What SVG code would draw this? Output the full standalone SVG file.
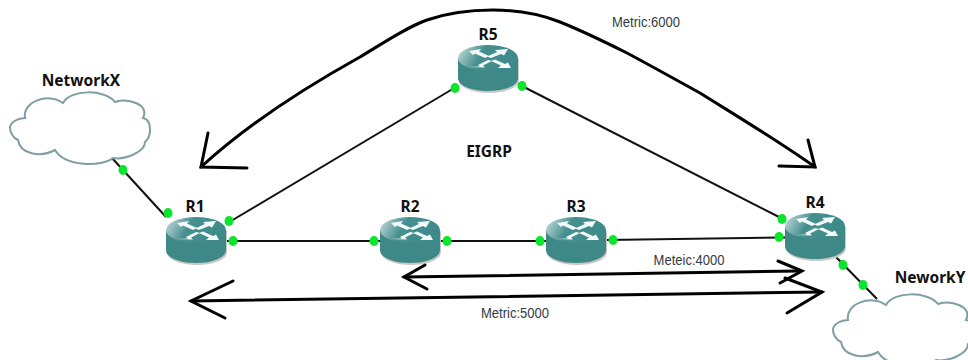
<svg xmlns="http://www.w3.org/2000/svg" width="968" height="360" viewBox="0 0 968 360">
<style>
.lbl{font-family:"Noto Sans","DejaVu Sans",sans-serif;font-weight:700;font-size:15.500px;fill:#111;text-anchor:middle}
.met{font-family:"Liberation Sans",Arial,sans-serif;font-size:14px;fill:#333a45;text-anchor:middle}
.link{stroke:#111;stroke-width:2;fill:none}
.dot{fill:#0be52d}
.draw{stroke:#000;stroke-width:3;fill:none;stroke-linecap:round;stroke-linejoin:miter}
.cloud{fill:#fff;stroke:#7f9ea3;stroke-width:2}
.arrow{fill:#f4fafa}
</style>
<defs>
<linearGradient id="top" x1="0" y1="0" x2="1" y2="0.25"><stop offset="0" stop-color="#cfe0e0"/><stop offset="0.45" stop-color="#458f8f"/><stop offset="1" stop-color="#3e8a8a"/></linearGradient>
<g id="router">
<path d="M-30 -10V11C-30 19 -16 24 0 24S30 19 30 11V-10Z" fill="#c9c9c9" transform="translate(1,1)"/>
<path d="M-30 -10V10C-30 18 -16 23 0 23S30 18 30 10V-10Z" fill="#3f8888"/>
<ellipse cx="0" cy="-10" rx="30" ry="13" fill="url(#top)"/>
<g class="arrow">
<path d="M-19 -17L-7 -19L-9 -16.500L1 -12L-3 -10L-13 -14.500L-15 -13Z"/>
<path d="M20 -19L7 -18L9 -16L-1 -11.500L3 -10L13 -14L16 -12.500Z"/>
<path d="M-20 -2L-8 -2.500L-10 -4L0 -9L4 -8L-5 -3.500L-3 -1.500Z" transform="translate(0,1)"/>
<path d="M3 -7L7 -8.500L17 -4L20 -5.500L23 0L10 0L13 -2.500Z"/>
</g>
</g>
<path id="cloudshape" d="M0 36C0 30 8 26 15 26C12 10 38 0 53 11C60 -3 95 -3 105 10C118 6 140 12 133 26C142 28 142 44 135 50C135 60 115 68 103 66C92 75 55 75 45 58C30 66 10 62 8 48C3 46 0 40 0 36Z"/>
</defs>
<g id="connectors">
<path class="link" d="M112 158L166 217"/>
<path class="link" d="M226 224L456 87"/>
<path class="link" d="M226 241H380"/>
<path class="link" d="M440 241H546"/>
<path class="link" d="M606 240L785 237.500"/>
<path class="link" d="M518 84L785 220"/>
<path class="link" d="M834 255L877 299"/>
</g>
<g id="NetworkX"><use href="#cloudshape" class="cloud" transform="translate(10,92)"/><text class="lbl" x="81" y="86">NetworkX</text></g>
<g id="NeworkY"><use href="#cloudshape" class="cloud" transform="translate(833,294)"/><text class="lbl" x="930" y="283">NeworkY</text></g>
<g id="R1"><use href="#router" x="196" y="240"/><text class="lbl" x="195" y="212">R1</text></g>
<g id="R2"><use href="#router" x="410" y="240"/><text class="lbl" x="410" y="212">R2</text></g>
<g id="R3"><use href="#router" x="576" y="240"/><text class="lbl" x="576" y="212">R3</text></g>
<g id="R4"><use href="#router" x="815" y="236"/><text class="lbl" x="815" y="208">R4</text></g>
<g id="R5"><use href="#router" x="488" y="68"/><text class="lbl" x="488" y="40">R5</text></g>
<g id="dots">
<ellipse class="dot" cx="123" cy="170" rx="4.500" ry="5"/>
<ellipse class="dot" cx="168" cy="213" rx="4.500" ry="5"/>
<ellipse class="dot" cx="229" cy="221" rx="4.500" ry="5"/>
<ellipse class="dot" cx="233" cy="241" rx="4.500" ry="5"/>
<ellipse class="dot" cx="374" cy="241" rx="4.500" ry="5"/>
<ellipse class="dot" cx="447" cy="241" rx="4.500" ry="5"/>
<ellipse class="dot" cx="540" cy="241" rx="4.500" ry="5"/>
<ellipse class="dot" cx="613" cy="240" rx="4.500" ry="5"/>
<ellipse class="dot" cx="455" cy="88" rx="4.500" ry="5"/>
<ellipse class="dot" cx="522" cy="86" rx="4.500" ry="5"/>
<ellipse class="dot" cx="782" cy="219" rx="4.500" ry="5"/>
<ellipse class="dot" cx="779" cy="237" rx="4.500" ry="5"/>
<ellipse class="dot" cx="843" cy="265" rx="4.500" ry="5"/>
<ellipse class="dot" cx="863" cy="285" rx="4.500" ry="5"/>
</g>
<g id="annotations">
<path class="draw" d="M201 167C250 122 315 82 360 57C385 42 405 28 427 20C450 12 470 10 493 10C515 10 540 14 560 22C585 32 605 42 627 53C655 68 680 82 700 93C740 118 780 142 815 167"/>
<path class="draw" d="M208 133L201 167L247 168"/>
<path class="draw" d="M808 140L815 167L779 166"/>
<path class="draw" d="M404 277L800 271"/>
<path class="draw" d="M425 265L404 277L427 289"/>
<path class="draw" d="M778 261L802 271L780 283"/>
<path class="draw" d="M191 301L822 292"/>
<path class="draw" d="M233 281L191 301L225 318"/>
<path class="draw" d="M785 278L822 292L787 313"/>
<text class="met" transform="translate(646,27) scale(.93,1)">Metric:6000</text>
<text class="met" transform="translate(689,265) scale(.93,1)">Meteic:4000</text>
<text class="met" transform="translate(515,318) scale(.93,1)">Metric:5000</text>
<text class="lbl" x="489" y="157">EIGRP</text>
</g>
</svg>
